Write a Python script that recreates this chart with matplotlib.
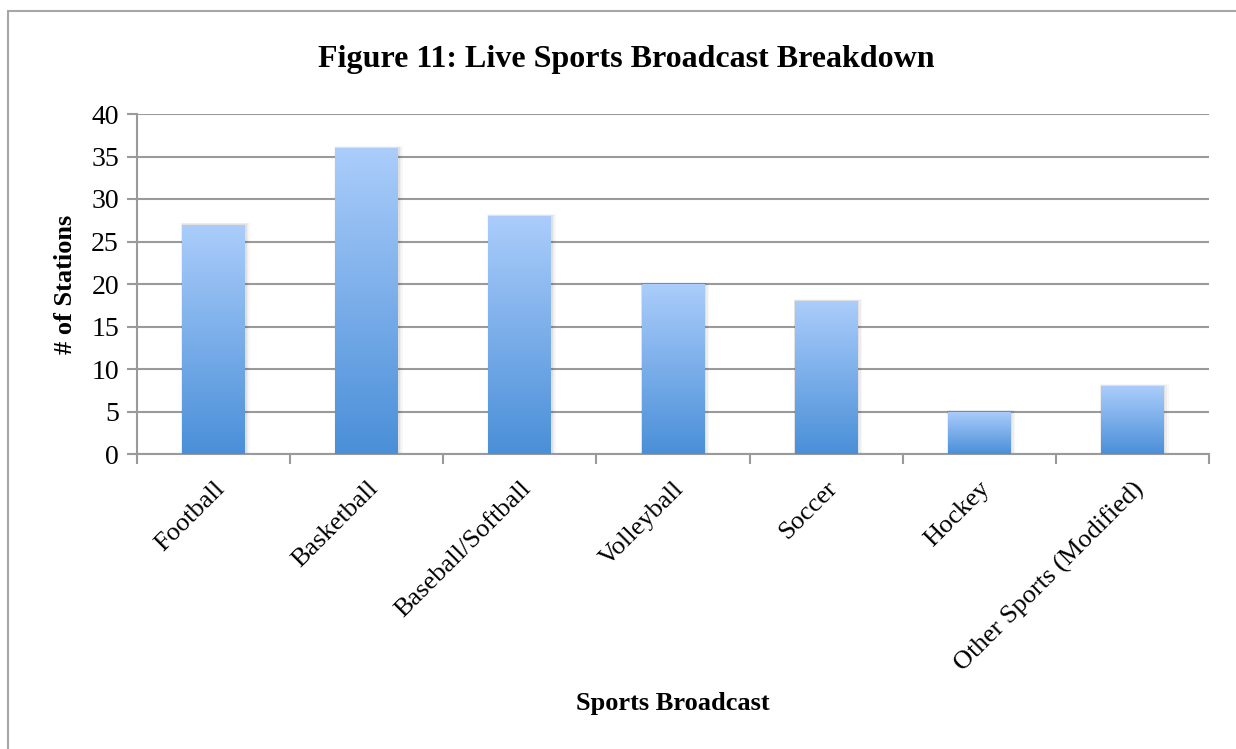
import numpy as np
import matplotlib.pyplot as plt
import matplotlib.transforms as mtransforms
from matplotlib.patches import Rectangle
from matplotlib.colors import LinearSegmentedColormap

plt.rcParams['font.family'] = ['Liberation Serif', 'DejaVu Serif']

sports = ['Football', 'Basketball', 'Baseball/Softball', 'Volleyball',
          'Soccer', 'Hockey', 'Other Sports (Modified)']
stations = [27, 36, 28, 20, 18, 5, 8]
yticks = [0, 5, 10, 15, 20, 25, 30, 35, 40]

fig = plt.figure(figsize=(12.36, 7.49), dpi=100)
# outer chart frame
fig.patches.append(Rectangle((8 / 1236, 1 - 760 / 749), 1.0, (760 - 11) / 749,
                             transform=fig.transFigure, fill=False,
                             edgecolor='#a6a6a6', linewidth=1.5))

ax = fig.add_axes([137 / 1236, 1 - 454 / 749, (1209 - 137) / 1236, (454 - 114) / 749])

cmap = LinearSegmentedColormap.from_list('barblue', ['#4a8fd8', '#abcdfb'])
grad = np.linspace(0, 1, 256).reshape(-1, 1)
width = 0.41
for i, v in enumerate(stations):
    x0 = i - width / 2
    # soft shadow
    for k, a in enumerate([0.05, 0.04, 0.03]):
        d = 0.008 * (k + 1)
        ax.add_patch(Rectangle((x0 - d * 0.3, 0), width + d * 1.6, v + d * 8,
                               facecolor='#000000', alpha=a, edgecolor='none',
                               zorder=2))
    im = ax.imshow(grad, cmap=cmap, origin='lower', aspect='auto',
                   extent=[x0, x0 + width, 0, v], zorder=3)
    clip = Rectangle((x0, 0), width, v, transform=ax.transData)
    im.set_clip_path(clip)
ax.set_xlim(-0.5, len(sports) - 0.5)
ax.set_ylim(0, 40)

ax.set_yticks(yticks)
ax.set_yticklabels([str(t) for t in yticks], fontsize=20)
ax.yaxis.grid(True, color='#9a9a9a', linewidth=1.5, zorder=1)
ax.set_axisbelow(True)

ax.set_xticks(np.arange(len(sports)))
ax.set_xticklabels(sports, fontsize=19, rotation=45, ha='right',
                   rotation_mode='anchor')
shift = mtransforms.ScaledTranslation(8 / 100, 0, fig.dpi_scale_trans)
for lab in ax.get_xticklabels():
    lab.set_transform(lab.get_transform() + shift)
ax.set_xticks(np.arange(-0.5, len(sports)), minor=True)
ax.tick_params(axis='x', which='major', length=0, pad=17)
ax.tick_params(axis='x', which='minor', length=7, width=1.5, color='#9a9a9a')
ax.tick_params(axis='y', length=7, width=1.5, color='#9a9a9a', pad=6)

for s in ['top', 'right']:
    ax.spines[s].set_visible(False)
for s in ['left', 'bottom']:
    ax.spines[s].set_color('#9a9a9a')
    ax.spines[s].set_linewidth(1.5)

ax.set_ylabel('# of Stations', fontsize=19, fontweight='bold')
ax.yaxis.set_label_coords((65 - 137) / (1209 - 137), 0.5)
ax.set_xlabel('Sports Broadcast', fontsize=19, fontweight='bold')
ax.xaxis.set_label_coords(0.5, (454 - 703) / (454 - 114))
ax.xaxis.label.set_va('center')
ax.yaxis.label.set_va('center')
fig.text(626 / 1236, 1 - 59 / 749, 'Figure 11: Live Sports Broadcast Breakdown',
         fontsize=23, fontweight='bold', ha='center', va='center')

fig.savefig('out.png', dpi=100)
